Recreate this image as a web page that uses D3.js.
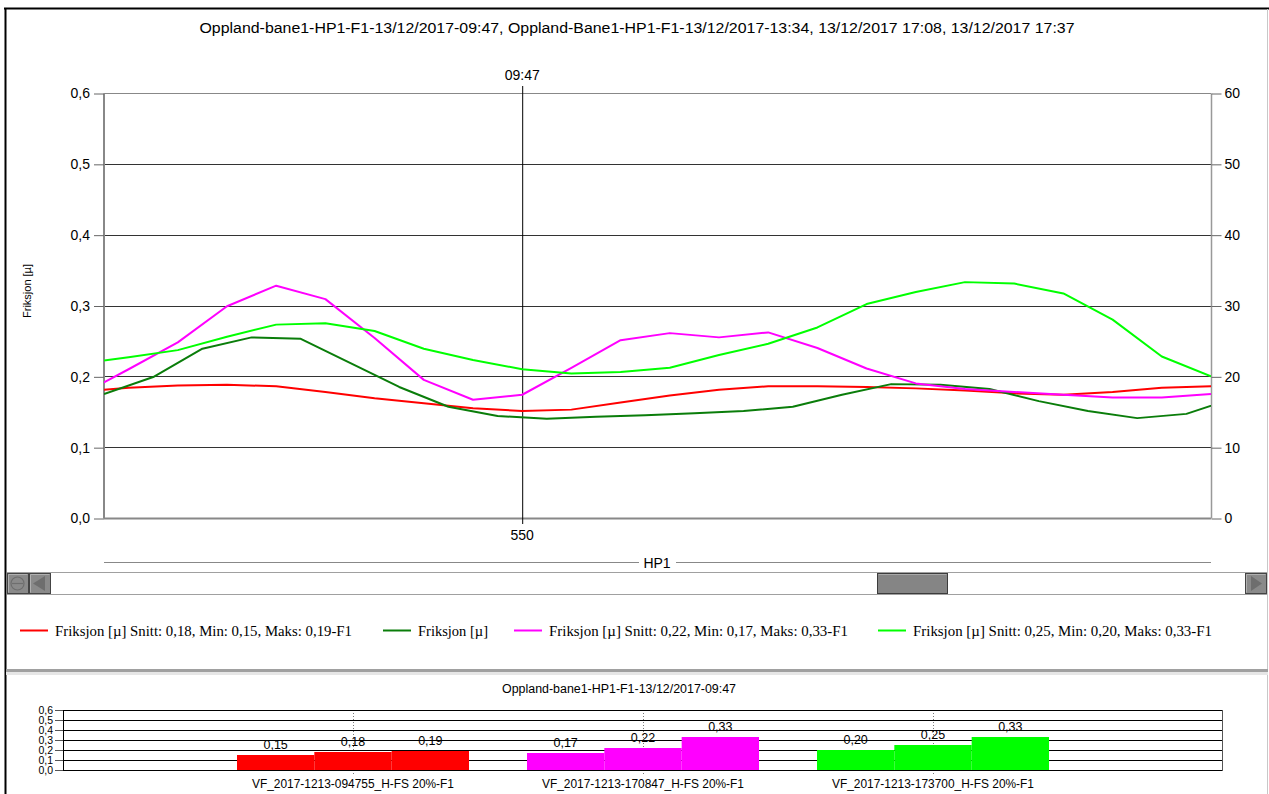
<!DOCTYPE html>
<html>
<head>
<meta charset="utf-8">
<script src="https://cdn.jsdelivr.net/npm/d3@7"></script>
<style>
  html, body { margin: 0; padding: 0; background: #fff; }
  svg { display: block; }
  text { font-family: "Liberation Sans", Arial, sans-serif; fill: #000; }
  .serif { font-family: "Liberation Serif", "Times New Roman", serif; }
</style>
</head>
<body>
<svg id="chart" width="1269" height="794"></svg>
<script>
// ---- Data ---------------------------------------------------------------
const chartTitle = "Oppland-bane1-HP1-F1-13/12/2017-09:47, Oppland-Bane1-HP1-F1-13/12/2017-13:34, 13/12/2017 17:08, 13/12/2017 17:37";
const cursorTime = "09:47";
const cursorDist = 550;
const sectionLabel = "HP1";
const yAxisLabel = "Friksjon [µ]";

// distance (m) of each sample
const distA = [460, 470, 480, 490, 500, 510, 520, 530, 540, 550, 560, 570, 580, 590, 600, 610, 620, 630, 640, 650, 660, 670, 680, 690];
const distB = [465, 475, 485, 495, 505, 515, 525, 535, 545, 555, 565, 575, 585, 595, 605, 615, 625, 635, 645, 655, 665, 675, 685, 695];

const redValues = [0.178, 0.184, 0.187, 0.188, 0.186, 0.178, 0.169, 0.162, 0.155, 0.151, 0.153, 0.163, 0.173, 0.181, 0.186, 0.186, 0.185, 0.183, 0.180, 0.176, 0.174, 0.178, 0.184, 0.186];
const darkGreenValues = [0.175, 0.199, 0.239, 0.255, 0.253, 0.219, 0.185, 0.157, 0.144, 0.140, 0.143, 0.145, 0.148, 0.151, 0.157, 0.174, 0.189, 0.188, 0.182, 0.165, 0.151, 0.141, 0.147, 0.170];
const pinkValues = [0.173, 0.210, 0.248, 0.299, 0.328, 0.309, 0.254, 0.195, 0.167, 0.174, 0.212, 0.251, 0.261, 0.255, 0.262, 0.240, 0.211, 0.190, 0.182, 0.178, 0.174, 0.170, 0.170, 0.175];
const limeValues = [0.218, 0.227, 0.237, 0.256, 0.273, 0.275, 0.264, 0.239, 0.223, 0.210, 0.204, 0.206, 0.212, 0.230, 0.246, 0.269, 0.302, 0.319, 0.333, 0.331, 0.317, 0.280, 0.228, 0.200];

const leftTicks = [0, 0.1, 0.2, 0.3, 0.4, 0.5, 0.6];
const rightTicks = [0, 10, 20, 30, 40, 50, 60];

const legendLabels = [
  "Friksjon [µ] Snitt: 0,18, Min: 0,15, Maks: 0,19-F1",
  "Friksjon [µ]",
  "Friksjon [µ] Snitt: 0,22, Min: 0,17, Maks: 0,33-F1",
  "Friksjon [µ] Snitt: 0,25, Min: 0,20, Maks: 0,33-F1"
];
const seriesColors = ["#ff0000", "#0a7d0a", "#ff00ff", "#00ff00"];

// summary bar chart
const barTitle = "Oppland-bane1-HP1-F1-13/12/2017-09:47";
const barCategories = ["VF_2017-1213-094755_H-FS 20%-F1", "VF_2017-1213-170847_H-FS 20%-F1", "VF_2017-1213-173700_H-FS 20%-F1"];
const barStats = ["Min", "Snitt", "Maks"];
const barValues = [[0.15, 0.18, 0.19], [0.17, 0.22, 0.33], [0.20, 0.25, 0.33]];
const barColors = ["#ff0000", "#ff00ff", "#00ff00"];
const barTicks = [0, 0.1, 0.2, 0.3, 0.4, 0.5, 0.6];

// ---- Helpers ------------------------------------------------------------
const fmt = v => d3.format(".1f")(v).replace(".", ",");
const fmt2 = v => d3.format(".2f")(v).replace(".", ",");

const svg = d3.select("#chart");

// outer frame
svg.append("line").attr("x1", 4).attr("x2", 1269).attr("y1", 8.5).attr("y2", 8.5)
  .attr("stroke", "#000").attr("stroke-width", 2);
svg.append("line").attr("x1", 5.5).attr("x2", 5.5).attr("y1", 8).attr("y2", 794)
  .attr("stroke", "#000").attr("stroke-width", 2);
svg.append("line").attr("x1", 1267.5).attr("x2", 1267.5).attr("y1", 9).attr("y2", 794)
  .attr("stroke", "#c8c8c8").attr("stroke-width", 1);

// title
svg.append("text").attr("x", 637).attr("y", 33).attr("text-anchor", "middle")
  .attr("font-size", 14).attr("textLength", 875).attr("lengthAdjust", "spacingAndGlyphs")
  .text(chartTitle);

// ---- Main line chart ----------------------------------------------------
const plot = { left: 104, right: 1211, top: 93, bottom: 518 };
const x = d3.scaleLinear().domain([465, 690]).range([plot.left, plot.right]);
const y = d3.scaleLinear().domain([0, 0.6]).range([plot.bottom, plot.top]);
const yR = d3.scaleLinear().domain([0, 60]).range([plot.bottom, plot.top]);

// horizontal grid
svg.append("g").selectAll("line").data(leftTicks).join("line")
  .attr("x1", plot.left).attr("x2", plot.right)
  .attr("y1", d => Math.round(y(d)) + 0.5).attr("y2", d => Math.round(y(d)) + 0.5)
  .attr("stroke", d => (d === 0 || d === 0.6) ? "#888" : "#333")
  .attr("stroke-width", d => d === 0 ? 2 : 1);

// left axis
const leftAxis = d3.axisLeft(y).tickValues(leftTicks).tickFormat(fmt).tickSize(10).tickPadding(4);
const gL = svg.append("g").attr("transform", `translate(${plot.left},0.5)`).call(leftAxis);
gL.select(".domain").attr("stroke", "#888").attr("stroke-width", 2).attr("d", `M0,${plot.top}V${plot.bottom}`);
gL.selectAll(".tick line").attr("stroke", "#666");
gL.selectAll(".tick text").attr("font-size", 14).attr("fill", "#000")
  .style("font-family", "'Liberation Sans', Arial, sans-serif");

// right axis
const rightAxis = d3.axisRight(yR).tickValues(rightTicks).tickSize(10).tickPadding(3);
const gR = svg.append("g").attr("transform", `translate(${plot.right + 0.5},0.5)`).call(rightAxis);
gR.select(".domain").attr("stroke", "#999").attr("stroke-width", 1.5).attr("d", `M0,${plot.top}V${plot.bottom}`);
gR.selectAll(".tick line").attr("stroke", "#666");
gR.selectAll(".tick text").attr("font-size", 14).attr("fill", "#000")
  .style("font-family", "'Liberation Sans', Arial, sans-serif");

// y label
svg.append("text").attr("transform", "translate(31,291) rotate(-90)")
  .attr("text-anchor", "middle").attr("font-size", 11).text(yAxisLabel);

// cursor line
svg.append("line").attr("x1", x(cursorDist) + 0.5).attr("x2", x(cursorDist) + 0.5)
  .attr("y1", 86).attr("y2", 524).attr("stroke", "#000").attr("stroke-width", 1);
svg.append("text").attr("x", x(cursorDist)).attr("y", 80).attr("text-anchor", "middle")
  .attr("font-size", 14).text(cursorTime);
svg.append("text").attr("x", x(cursorDist)).attr("y", 540).attr("text-anchor", "middle")
  .attr("font-size", 14).text(cursorDist);

// series lines
svg.append("clipPath").attr("id", "plotClip").append("rect")
  .attr("x", plot.left).attr("y", plot.top - 5).attr("width", plot.right - plot.left).attr("height", plot.bottom - plot.top + 5);

const series = [
  { dist: distA, values: redValues, color: seriesColors[0] },
  { dist: distB, values: darkGreenValues, color: seriesColors[1] },
  { dist: distA, values: pinkValues, color: seriesColors[2] },
  { dist: distA, values: limeValues, color: seriesColors[3] }
];
const line = d3.line().x(d => x(d[0])).y(d => y(d[1]));
const gLines = svg.append("g").attr("clip-path", "url(#plotClip)");
series.forEach(s => {
  gLines.append("path").datum(d3.zip(s.dist, s.values))
    .attr("d", line).attr("fill", "none").attr("stroke", s.color)
    .attr("stroke-width", 2).attr("stroke-linejoin", "round");
});

// section line with label
const secY = 562.5;
svg.append("line").attr("x1", plot.left).attr("x2", 639).attr("y1", secY).attr("y2", secY).attr("stroke", "#888");
svg.append("line").attr("x1", 676).attr("x2", plot.right).attr("y1", secY).attr("y2", secY).attr("stroke", "#888");
svg.append("text").attr("x", 657).attr("y", 568).attr("text-anchor", "middle").attr("font-size", 14).text(sectionLabel);

// scrollbar
const sb = svg.append("g");
sb.append("rect").attr("x", 7.5).attr("y", 572.5).attr("width", 1259).attr("height", 22)
  .attr("fill", "#fff").attr("stroke", "#a0a0a0");
function sbButton(x0, w) {
  sb.append("rect").attr("x", x0 + 0.5).attr("y", 573.5).attr("width", w).attr("height", 20)
    .attr("fill", "#8a8a8a").attr("stroke", "#444").attr("stroke-width", 1);
  sb.append("line").attr("x1", x0 + 1.5).attr("x2", x0 + w - 0.5).attr("y1", 574.5).attr("y2", 574.5).attr("stroke", "#b0b0b0");
  sb.append("line").attr("x1", x0 + 1.5).attr("x2", x0 + 1.5).attr("y1", 574.5).attr("y2", 592.5).attr("stroke", "#b0b0b0");
}
sbButton(7, 21);
sbButton(29, 21);
sb.append("circle").attr("cx", 17.5).attr("cy", 583.5).attr("r", 6.5).attr("fill", "none").attr("stroke", "#6e6e6e").attr("stroke-width", 1.2);
sb.append("line").attr("x1", 12).attr("x2", 23).attr("y1", 583.5).attr("y2", 583.5).attr("stroke", "#6e6e6e").attr("stroke-width", 1.2);
sb.append("path").attr("d", "M33,583.5 L45,576 L45,591 Z").attr("fill", "#6e6e6e");
sbButton(1245, 21);
sb.append("path").attr("d", "M1251,576 L1262,583.5 L1251,591 Z").attr("fill", "#6e6e6e");
// thumb
sb.append("rect").attr("x", 877.5).attr("y", 573.5).attr("width", 70).attr("height", 20)
  .attr("fill", "#858585").attr("stroke", "#3c3c3c");
sb.append("line").attr("x1", 878.5).attr("x2", 946.5).attr("y1", 574.5).attr("y2", 574.5).attr("stroke", "#a8a8a8");

// legend
const legendX = [20, 383, 514, 878];
const legendW = [297, 70, 299, 299];
const legend = svg.append("g");
legendLabels.forEach((lab, i) => {
  legend.append("line").attr("x1", legendX[i]).attr("x2", legendX[i] + 28)
    .attr("y1", 630.5).attr("y2", 630.5).attr("stroke", seriesColors[i]).attr("stroke-width", 2);
  legend.append("text").attr("class", "serif").attr("x", legendX[i] + 35).attr("y", 636)
    .attr("font-size", 14).attr("textLength", legendW[i]).attr("lengthAdjust", "spacingAndGlyphs")
    .text(lab);
});

// separator
svg.append("rect").attr("x", 6).attr("y", 669).attr("width", 1262).attr("height", 3).attr("fill", "#a0a0a0");
svg.append("rect").attr("x", 6).attr("y", 672).attr("width", 1262).attr("height", 3).attr("fill", "#e6e6e6");

// ---- Summary bar chart ------------------------------------------------
svg.append("text").attr("x", 619).attr("y", 693).attr("text-anchor", "middle")
  .attr("font-size", 12).attr("textLength", 234).attr("lengthAdjust", "spacingAndGlyphs").text(barTitle);

const bx = d3.scaleLinear().domain([0, barCategories.length + 1]).range([63, 1223]);
const by = d3.scaleLinear().domain([0, 0.6]).range([770, 710]);
const groupW = (bx(1) - bx(0)) * 0.8;
const sub = d3.scaleBand().domain(barStats).range([-groupW / 2, groupW / 2]);

const gb = svg.append("g");
// category dotted lines
gb.selectAll("line.cat").data(barCategories).join("line").attr("class", "cat")
  .attr("x1", (d, i) => Math.round(bx(i + 1)) + 0.5).attr("x2", (d, i) => Math.round(bx(i + 1)) + 0.5)
  .attr("y1", by(0.6)).attr("y2", by(0) + 5)
  .attr("stroke", "#777").attr("stroke-dasharray", "1,2");

// grid
gb.selectAll("line.grid").data(barTicks).join("line").attr("class", "grid")
  .attr("x1", 63).attr("x2", 1222)
  .attr("y1", d => Math.round(by(d)) + 0.5).attr("y2", d => Math.round(by(d)) + 0.5)
  .attr("stroke", "#000").attr("stroke-width", 1.2);
gb.append("line").attr("x1", 63.5).attr("x2", 63.5).attr("y1", 710).attr("y2", 771).attr("stroke", "#000");
gb.append("line").attr("x1", 1222.5).attr("x2", 1222.5).attr("y1", 710).attr("y2", 771).attr("stroke", "#555");

// y ticks
gb.selectAll("line.yt").data(barTicks).join("line").attr("class", "yt")
  .attr("x1", 55).attr("x2", 63)
  .attr("y1", d => Math.round(by(d)) + 0.5).attr("y2", d => Math.round(by(d)) + 0.5).attr("stroke", "#555");
gb.selectAll("text.yl").data(barTicks).join("text").attr("class", "yl")
  .attr("x", 53).attr("y", d => by(d) + 3.5).attr("text-anchor", "end")
  .attr("font-size", 10.5).text(fmt);

// bars
barCategories.forEach((cat, i) => {
  const cx = bx(i + 1);
  barValues[i].forEach((v, j) => {
    const x0 = cx + sub(barStats[j]);
    gb.append("rect").attr("x", x0).attr("y", by(v)).attr("width", sub.bandwidth())
      .attr("height", by(0) - by(v)).attr("fill", barColors[i]);
    gb.append("text").attr("x", x0 + sub.bandwidth() / 2).attr("y", by(v) - 6)
      .attr("text-anchor", "middle").attr("font-size", 12.5).attr("fill", "#222").text(fmt2(v));
  });
  gb.append("text").attr("x", cx).attr("y", 788).attr("text-anchor", "middle")
    .attr("font-size", 12).attr("textLength", 202).attr("lengthAdjust", "spacingAndGlyphs").text(cat);
});
</script>
</body>
</html>
